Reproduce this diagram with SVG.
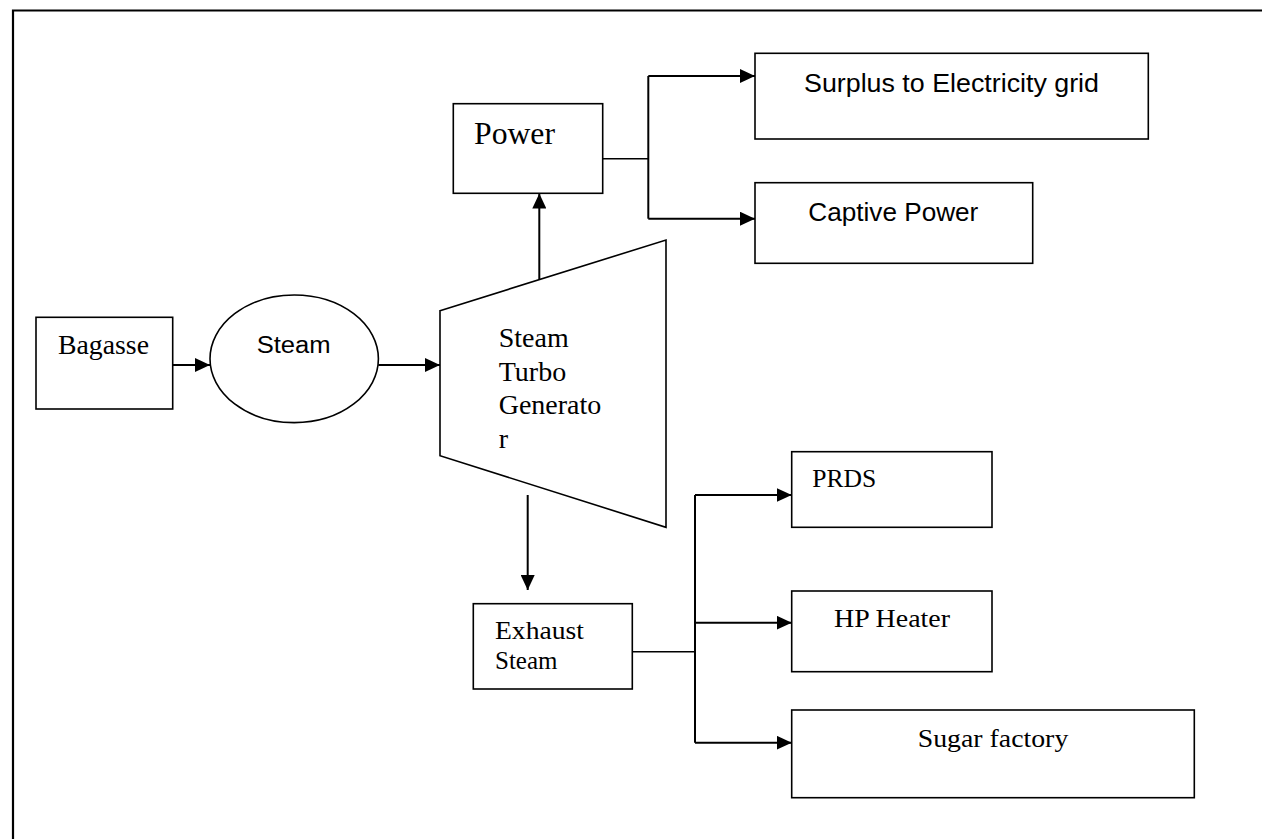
<svg xmlns="http://www.w3.org/2000/svg" width="1262" height="839" viewBox="0 0 1262 839">
<style>
.box{fill:#fff;stroke:#000;stroke-width:1.6}
.ln{fill:none;stroke:#000;stroke-width:2}
.ser{font-family:"Liberation Serif","Times New Roman",serif;fill:#000}
.san{font-family:"Liberation Sans",Arial,sans-serif;fill:#000}
</style>
<defs>
<marker id="ah" markerUnits="userSpaceOnUse" markerWidth="16" markerHeight="14" refX="15" refY="7" orient="auto">
<path d="M0,0 L15,7 L0,14 z" fill="#000"/>
</marker>
</defs>
<rect width="1262" height="839" fill="#fff"/>
<g id="frame">
<path d="M13,839 L13,10.5 L1262,10.5" fill="none" stroke="#000" stroke-width="2.2"/>
</g>
<g id="connectors">
<path class="ln" d="M172.7,365 L210,365" marker-end="url(#ah)"/>
<path class="ln" d="M378.3,365 L440,365" marker-end="url(#ah)"/>
<path class="ln" d="M539.3,279.5 L539.3,193.5" marker-end="url(#ah)"/>
<path class="ln" d="M602.7,158.7 L648.3,158.7" style="stroke-width:1.6"/>
<path class="ln" d="M648.3,218.7 L648.3,76"/>
<path class="ln" d="M648.3,76 L755,76" marker-end="url(#ah)"/>
<path class="ln" d="M648.3,218.7 L755,218.7" marker-end="url(#ah)"/>
<path class="ln" d="M527.7,495 L527.7,590" marker-end="url(#ah)"/>
<path class="ln" d="M632.3,651.7 L695,651.7" style="stroke-width:1.6"/>
<path class="ln" d="M695,495 L695,742.7"/>
<path class="ln" d="M695,495 L791.7,495" marker-end="url(#ah)"/>
<path class="ln" d="M695,622.7 L791.7,622.7" marker-end="url(#ah)"/>
<path class="ln" d="M695,742.7 L791.7,742.7" marker-end="url(#ah)"/>
</g>
<g id="bagasse">
<rect class="box" x="36" y="317.3" width="136.7" height="91.7"/>
<text class="ser" x="58" y="354" font-size="28" textLength="91" lengthAdjust="spacingAndGlyphs">Bagasse</text>
</g>
<g id="steam">
<ellipse class="box" cx="294.2" cy="358.8" rx="84.2" ry="63.8"/>
<text class="san" x="256.7" y="352.7" font-size="23" textLength="74" lengthAdjust="spacingAndGlyphs">Steam</text>
</g>
<g id="turbine">
<polygon class="box" points="440,310.7 666,240 666,527.3 440,455.7"/>
<text class="ser" font-size="28">
<tspan x="498.7" y="346.7">Steam</tspan>
<tspan x="498.7" y="381">Turbo</tspan>
<tspan x="498.7" y="414.3">Generato</tspan>
<tspan x="498.7" y="448.3">r</tspan>
</text>
</g>
<g id="power">
<rect class="box" x="453.3" y="103.7" width="149.4" height="89.6"/>
<text class="ser" x="474" y="144" font-size="31" textLength="81" lengthAdjust="spacingAndGlyphs">Power</text>
</g>
<g id="surplus">
<rect class="box" x="755" y="53.3" width="393.3" height="85.7"/>
<text class="san" x="804" y="92" font-size="25" textLength="295" lengthAdjust="spacingAndGlyphs">Surplus to Electricity grid</text>
</g>
<g id="captive">
<rect class="box" x="755" y="182.7" width="277.7" height="80.6"/>
<text class="san" x="808.3" y="221" font-size="25" textLength="170" lengthAdjust="spacingAndGlyphs">Captive Power</text>
</g>
<g id="exhaust">
<rect class="box" x="473.3" y="603.7" width="159" height="85.3"/>
<text class="ser" font-size="25">
<tspan x="495" y="639.3" textLength="89" lengthAdjust="spacingAndGlyphs">Exhaust</tspan>
<tspan x="495" y="669.3">Steam</tspan>
</text>
</g>
<g id="prds">
<rect class="box" x="791.7" y="451.7" width="200.3" height="75.6"/>
<text class="ser" x="812.3" y="486.7" font-size="26" textLength="64" lengthAdjust="spacingAndGlyphs">PRDS</text>
</g>
<g id="hpheater">
<rect class="box" x="791.7" y="591" width="200.3" height="80.7"/>
<text class="ser" x="834" y="626.7" font-size="26" textLength="116" lengthAdjust="spacingAndGlyphs">HP Heater</text>
</g>
<g id="sugar">
<rect class="box" x="791.7" y="710" width="402.6" height="87.7"/>
<text class="ser" x="917.7" y="746.7" font-size="26" textLength="150.6" lengthAdjust="spacingAndGlyphs">Sugar factory</text>
</g>
</svg>
